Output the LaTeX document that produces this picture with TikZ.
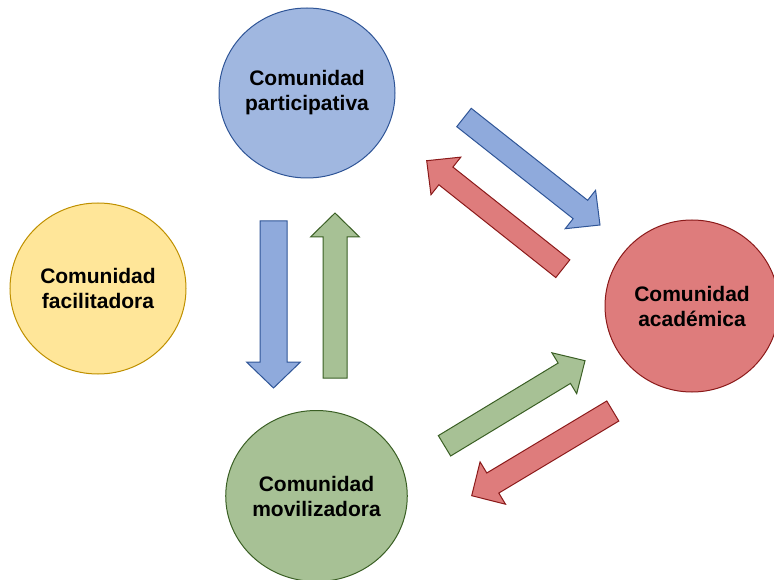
\documentclass[tikz,border=0pt]{standalone}
\usepackage{fontspec}
\setmainfont{Liberation Sans}
\usetikzlibrary{calc,shapes.geometric}
\definecolor{bluefill}{HTML}{A0B7E0}
\definecolor{bluearr}{HTML}{8FAADC}
\definecolor{bluedraw}{HTML}{2F5597}
\definecolor{yelfill}{HTML}{FFE699}
\definecolor{yeldraw}{HTML}{BF9000}
\definecolor{redfill}{HTML}{DE7C7C}
\definecolor{reddraw}{HTML}{8B1A1A}
\definecolor{grnfill}{HTML}{A7C195}
\definecolor{grndraw}{HTML}{3A5F24}
\newcommand\blockarr[6]{%
  \coordinate (ba-b) at ($(#3)!#6!(#2)$);
  \draw[#1] ($(#2)!#4!90:(#3)$) -- ($(ba-b)!#4!90:(#3)$) -- ($(ba-b)!#5!90:(#3)$) -- (#3)
    -- ($(ba-b)!#5!-90:(#3)$) -- ($(ba-b)!#4!-90:(#3)$) -- ($(#2)!#4!-90:(#3)$) -- cycle;}
\begin{document}
\begin{tikzpicture}[x=1pt,y=-1pt,
  comm/.style={ellipse,line width=1pt,inner sep=0pt,align=center,
    minimum width=176pt,minimum height=171pt,
    font=\fontsize{21}{25}\selectfont\bfseries},
  barrow/.style={line width=1pt,line join=miter}]
\useasboundingbox (0,0) rectangle (774,580);
\clip (0,0) rectangle (774,580);
\node[comm,fill=bluefill,draw=bluedraw,minimum height=170pt] (part) at (307,93) {Comunidad\\participativa};
\node[comm,fill=yelfill,draw=yeldraw] (faci) at (98,288.5) {Comunidad\\facilitadora};
\node[comm,fill=redfill,draw=reddraw,minimum width=174pt,minimum height=172pt] (acad) at (692,306) {Comunidad\\académica};
\node[comm,fill=grnfill,draw=grndraw,minimum width=177pt] (movi) at (316.5,496) {Comunidad\\movilizadora};
% arrow end points
\coordinate (a1s) at (273.5,221); \coordinate (a1e) at (273.5,388);
\coordinate (a2s) at (335,378);   \coordinate (a2e) at (335,213);
\coordinate (a3s) at (464,117.5); \coordinate (a3e) at (600,225);
\coordinate (a4s) at (562.8,268.7); \coordinate (a4e) at (426.7,160.7);
\coordinate (a5s) at (444.5,445.8); \coordinate (a5e) at (585,360.7);
\coordinate (a6s) at (612.8,411); \coordinate (a6e) at (471.7,495.7);
\blockarr{barrow,fill=bluearr,draw=bluedraw}{a1s}{a1e}{13.5pt}{27pt}{26pt}
\blockarr{barrow,fill=grnfill,draw=grndraw}{a2s}{a2e}{12pt}{24.5pt}{24pt}
\blockarr{barrow,fill=bluearr,draw=bluedraw}{a3s}{a3e}{11.7pt}{24.5pt}{25pt}
\blockarr{barrow,fill=redfill,draw=reddraw}{a4s}{a4e}{11.3pt}{24pt}{24.5pt}
\blockarr{barrow,fill=grnfill,draw=grndraw}{a5s}{a5e}{11.9pt}{23.9pt}{24.2pt}
\blockarr{barrow,fill=redfill,draw=reddraw}{a6s}{a6e}{11.7pt}{24.7pt}{24.6pt}
\end{tikzpicture}
\end{document}
